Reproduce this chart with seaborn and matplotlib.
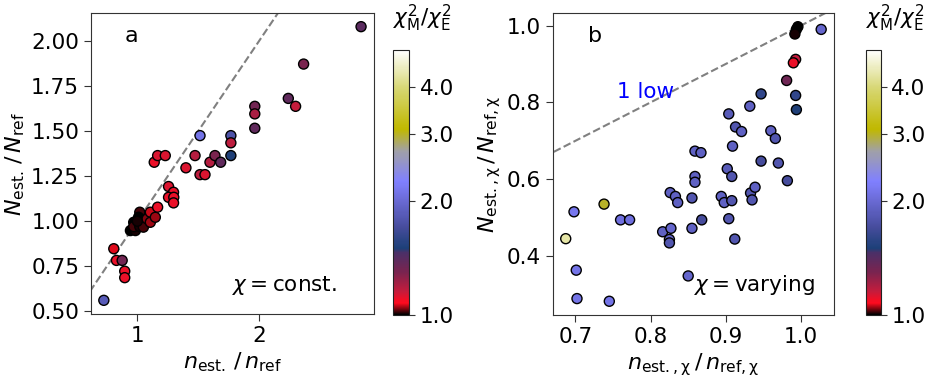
import numpy as np
import pandas as pd
import seaborn as sns
import matplotlib.pyplot as plt
from matplotlib.colors import LinearSegmentedColormap, LogNorm
from matplotlib.cm import ScalarMappable

# panel a: chi constant
a_x = [0.724, 0.806, 0.828, 0.875, 0.896, 0.896,
       0.943, 0.984, 0.97, 0.97, 1.02, 1.02, 1.01, 1.05, 1.05, 1.08, 1.107, 1.107, 1.148, 1.0,
       1.167, 1.257, 1.298, 1.257, 1.30, 1.298, 1.139, 1.167, 1.23, 1.40,
       1.475, 1.516, 1.557, 1.598, 1.639, 1.686, 1.516, 1.77, 1.77, 1.77,
       1.967, 1.967, 1.967, 2.243, 2.303, 2.369, 2.842]
a_y = [0.56, 0.847, 0.782, 0.782, 0.722, 0.686,
       0.948, 0.948, 0.994, 0.97, 0.97, 1.05, 1.022, 0.994, 0.967, 1.013, 1.05, 0.994, 1.022, 1.0,
       1.078, 1.193, 1.161, 1.133, 1.133, 1.102, 1.328, 1.365, 1.365, 1.297,
       1.365, 1.259, 1.259, 1.328, 1.365, 1.328, 1.476, 1.476, 1.436, 1.365,
       1.639, 1.597, 1.517, 1.683, 1.639, 1.874, 2.082]
a_chi = [1.85, 1.07, 1.10, 1.32, 1.10, 1.10,
         1.00, 1.01, 1.00, 1.02, 1.01, 1.02, 1.00, 1.03, 1.02, 1.04, 1.06, 1.05, 1.05, 1.01,
         1.10, 1.12, 1.10, 1.10, 1.10, 1.10, 1.10, 1.12, 1.12, 1.12,
         1.18, 1.17, 1.12, 1.18, 1.30, 1.38, 2.10, 1.75, 1.17, 1.50,
         1.32, 1.20, 1.38, 1.38, 1.15, 1.30, 1.40]

# panel b: chi varying
b_x = [0.996, 0.994, 0.992, 1.027, 0.993, 0.99, 0.981, 0.993, 0.994, 0.947,
       0.932, 0.904, 0.913, 0.921, 0.909, 0.96, 0.966, 0.859, 0.867, 0.947,
       0.97, 0.902, 0.859, 0.908, 0.982, 0.859, 0.826, 0.833, 0.836, 0.855,
       0.894, 0.898, 0.908, 0.933, 0.939, 0.935, 0.868, 0.904, 0.855, 0.912,
       0.816, 0.827, 0.825, 0.825, 0.76, 0.772, 0.738, 0.698, 0.687, 0.701,
       0.702, 0.745, 0.85]
b_y = [0.997, 0.99, 0.978, 0.99, 0.912, 0.903, 0.857, 0.818, 0.781, 0.822,
       0.79, 0.77, 0.736, 0.724, 0.686, 0.726, 0.706, 0.673, 0.669, 0.647,
       0.642, 0.627, 0.607, 0.607, 0.596, 0.592, 0.565, 0.555, 0.539, 0.551,
       0.555, 0.539, 0.544, 0.564, 0.579, 0.546, 0.494, 0.497, 0.472, 0.444,
       0.463, 0.472, 0.443, 0.434, 0.494, 0.494, 0.535, 0.515, 0.445, 0.363,
       0.289, 0.282, 0.348]
b_chi = [1.0, 1.0, 1.01, 1.95, 1.15, 1.10, 1.33, 1.6, 1.5, 1.6,
         1.9, 1.85, 1.8, 1.9, 1.9, 1.9, 1.8, 1.9, 1.9, 1.7,
         1.8, 1.85, 1.9, 1.8, 1.7, 1.9, 1.9, 1.9, 1.9, 1.8,
         1.9, 1.9, 1.8, 1.8, 1.9, 1.8, 1.7, 1.8, 1.9, 1.8,
         1.9, 1.95, 1.95, 1.8, 2.05, 2.05, 3.0, 2.15, 4.3, 2.1,
         2.1, 2.1, 1.95]

# custom colormap, nodes given in chi2 ratio
cmap_vals = [1.0, 1.075, 1.15, 1.3, 1.46, 1.5, 1.7, 2.0, 2.25, 2.7, 3.1, 4.0, 5.0]
cmap_cols = ['#000000', '#ff0a1e', '#c41c3c', '#782450', '#4a3068', '#1c4078',
             '#464c9c', '#6a6ad4', '#8080ff', '#a0a0a8', '#c0b800', '#d8d878', '#ffffff']
pos = [np.log(v) / np.log(5.0) for v in cmap_vals]
cmap = LinearSegmentedColormap.from_list('chi', list(zip(pos, cmap_cols)))
norm = LogNorm(vmin=1.0, vmax=5.0)

df_a = pd.DataFrame({'x': a_x, 'y': a_y, 'chi': a_chi})
df_b = pd.DataFrame({'x': b_x, 'y': b_y, 'chi': b_chi})

sns.set_style('ticks')
plt.rcParams['font.family'] = ['DejaVu Sans']
plt.rcParams['font.size'] = 15
for key in ['text.color', 'axes.labelcolor', 'xtick.color', 'ytick.color']:
    plt.rcParams[key] = 'black'

fs_tick = 15.5
fs_lab = 16

fig = plt.figure(figsize=(9.32, 3.82), dpi=100)
ax_a = fig.add_axes([0.0976, 0.178, 0.3036, 0.788])
cax_a = fig.add_axes([0.4217, 0.1754, 0.0172, 0.694])
ax_b = fig.add_axes([0.5933, 0.1754, 0.3015, 0.7906])
cax_b = fig.add_axes([0.929, 0.1754, 0.0161, 0.694])

for ax, df in [(ax_a, df_a), (ax_b, df_b)]:
    sns.scatterplot(data=df, x='x', y='y', hue='chi', palette=cmap, hue_norm=norm,
                    s=52, edgecolor='black', linewidth=1.0, legend=False, ax=ax, zorder=3)
    ax.autoscale(False)
    lims = np.array([0.0, 5.0])
    ax.plot(lims, lims, ls='--', color='gray', lw=1.5, zorder=1)
    ax.tick_params(labelsize=fs_tick, length=5, color='#333333')
    for sp in ax.spines.values():
        sp.set_color('#333333')

ax_a.set_xticks([1, 2])
ax_a.set_yticks([0.5, 0.75, 1.0, 1.25, 1.5, 1.75, 2.0])
ax_a.set_yticklabels(['0.50', '0.75', '1.00', '1.25', '1.50', '1.75', '2.00'])
ax_a.set_xlabel(r'$n_{\rm est.}\,/\,n_{\rm ref}$', fontsize=fs_lab, labelpad=3)
ax_a.set_ylabel(r'$N_{\rm est.}\,/\,N_{\rm ref}$', fontsize=fs_lab, labelpad=3)
ax_a.text(0.12, 0.925, 'a', transform=ax_a.transAxes, fontsize=16, va='center')
ax_a.text(0.87, 0.095, r'$\chi = $const.', transform=ax_a.transAxes, fontsize=fs_tick,
          ha='right', va='center')

ax_b.set_xticks([0.7, 0.8, 0.9, 1.0])
ax_b.set_yticks([0.4, 0.6, 0.8, 1.0])
ax_b.set_xlabel(r'$n_{\rm est.,\chi}\,/\,n_{\rm ref,\chi}$', fontsize=fs_lab, labelpad=3)
ax_b.set_ylabel(r'$N_{\rm est.,\chi}\,/\,N_{\rm ref,\chi}$', fontsize=fs_lab, labelpad=3)
ax_b.text(0.125, 0.925, 'b', transform=ax_b.transAxes, fontsize=16, va='center')
ax_b.text(0.93, 0.1, r'$\chi = $varying', transform=ax_b.transAxes, fontsize=fs_tick,
          ha='right', va='center')
ax_b.text(0.755, 0.827, '1 low', color='blue', fontsize=fs_tick, va='center')

for cax in [cax_a, cax_b]:
    cb = fig.colorbar(ScalarMappable(norm=norm, cmap=cmap), cax=cax)
    cb.set_ticks([1.0, 2.0, 3.0, 4.0])
    cb.set_ticklabels(['1.0', '2.0', '3.0', '4.0'])
    cb.minorticks_off()
    cax.tick_params(labelsize=fs_tick, length=4, color='#333333')
    cb.outline.set_edgecolor('#222222')
    cax.text(0.0, 1.06, r'$\chi^2_{\rm M}/\chi^2_{\rm E}$', transform=cax.transAxes,
             ha='left', va='bottom', fontsize=fs_tick)

fig.savefig('out.png', dpi=100)
